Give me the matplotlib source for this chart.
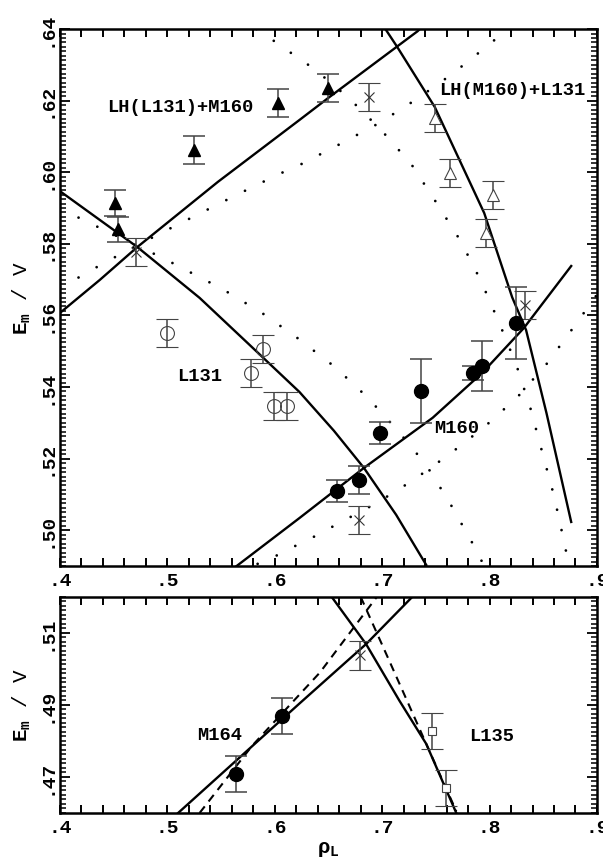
import matplotlib
matplotlib.use("Agg")
import matplotlib.pyplot as plt
from matplotlib import ticker

plt.rcParams['font.family'] = ['Liberation Mono', 'DejaVu Sans']
plt.rcParams['font.weight'] = 'bold'
plt.rcParams['mathtext.fontset'] = 'custom'
plt.rcParams['mathtext.rm'] = 'Liberation Mono:bold'
plt.rcParams['mathtext.it'] = 'Liberation Mono:bold'
plt.rcParams['mathtext.bf'] = 'Liberation Mono:bold'
plt.rcParams['mathtext.fallback'] = 'stixsans'

# ---- upper panel: measured points ----
tri_f_x = [0.451, 0.454, 0.525, 0.603, 0.650]
tri_f_y = [0.5914, 0.5841, 0.6062, 0.6193, 0.6235]
tri_f_err = [0.0035, 0.0035, 0.004, 0.004, 0.004]

cross_x = [0.471, 0.688, 0.833, 0.678]
cross_y = [0.5777, 0.621, 0.5629, 0.5028]
cross_err = [0.004, 0.004, 0.004, 0.004]

tri_o_x = [0.749, 0.763, 0.803, 0.797]
tri_o_y = [0.6151, 0.5998, 0.5936, 0.583]
tri_o_err = [0.004, 0.004, 0.004, 0.004]

circ_o_x = [0.500, 0.589, 0.578, 0.599, 0.611]
circ_o_y = [0.5551, 0.5506, 0.5439, 0.5347, 0.5347]
circ_o_err = [0.004, 0.004, 0.004, 0.004, 0.004]

circ_f_x = [0.658, 0.678, 0.698, 0.736, 0.785, 0.793, 0.825]
circ_f_y = [0.511, 0.514, 0.5272, 0.5389, 0.5439, 0.5459, 0.5579]
circ_f_err = [0.003, 0.004, 0.003, 0.009, 0.002, 0.007, 0.010]

# ---- upper panel: fitted curves ----
lh_l131_x = [0.400, 0.437, 0.472, 0.547, 0.623, 0.650, 0.733, 0.735]
lh_l131_y = [0.5607, 0.5699, 0.5791, 0.5973, 0.6146, 0.6208, 0.6394, 0.640]

l131_x = [0.400, 0.472, 0.530, 0.575, 0.623, 0.655, 0.683, 0.713, 0.741]
l131_y = [0.5947, 0.5791, 0.5649, 0.5522, 0.5386, 0.5278, 0.5174, 0.5043, 0.4903]

m160_x = [0.5645, 0.623, 0.683, 0.747, 0.793, 0.832, 0.876]
m160_y = [0.490, 0.5034, 0.5174, 0.5314, 0.5439, 0.5565, 0.5738]

lh_m160_x = [0.703, 0.714, 0.749, 0.772, 0.795, 0.821, 0.834, 0.853, 0.876]
lh_m160_y = [0.640, 0.635, 0.6182, 0.6034, 0.5886, 0.5651, 0.5559, 0.5327, 0.5023]

# dotted curves
dot_e_x = [0.400, 0.420, 0.459, 0.496, 0.551, 0.588, 0.621, 0.656, 0.686,
           0.714, 0.741, 0.763, 0.784, 0.795]
dot_e_y = [0.590, 0.5869, 0.5813, 0.576, 0.5674, 0.5607, 0.5537, 0.5456,
           0.5372, 0.528, 0.5182, 0.5076, 0.4964, 0.490]

dot_f_x = [0.400, 0.418, 0.436, 0.455, 0.492, 0.529, 0.566, 0.604, 0.623,
           0.659, 0.697, 0.732, 0.765, 0.798, 0.817]
dot_f_y = [0.5679, 0.5707, 0.5738, 0.5769, 0.5827, 0.5883, 0.5939, 0.5995,
           0.602, 0.6076, 0.6137, 0.6204, 0.6274, 0.6353, 0.640]

dot_g_x = [0.583, 0.602, 0.619, 0.637, 0.669, 0.699, 0.727, 0.750, 0.773,
           0.792, 0.809, 0.825, 0.838, 0.849, 0.860, 0.869, 0.874]
dot_g_y = [0.640, 0.6361, 0.6325, 0.6288, 0.6207, 0.6118, 0.6023, 0.5917,
           0.5808, 0.5696, 0.5579, 0.5461, 0.5341, 0.5218, 0.5096, 0.4973, 0.490]

dot_h_x = [0.584, 0.603, 0.621, 0.640, 0.658, 0.695, 0.729, 0.763, 0.795,
           0.826, 0.853, 0.877, 0.889, 0.899]
dot_h_y = [0.4906, 0.4931, 0.4959, 0.4987, 0.5017, 0.5076, 0.514, 0.5213,
           0.5288, 0.5372, 0.5464, 0.5562, 0.5612, 0.5654]

# ---- lower panel ----
b_circ_x = [0.564, 0.607]
b_circ_y = [0.4708, 0.4868]
b_circ_err = [0.005, 0.005]

b_cross_x = [0.679]
b_cross_y = [0.5038]
b_cross_err = [0.004]

b_sq_x = [0.746, 0.759]
b_sq_y = [0.4828, 0.4669]
b_sq_err = [0.005, 0.005]

m164_x = [0.510, 0.623, 0.685, 0.728]
m164_y = [0.460, 0.4904, 0.5069, 0.520]
m164_dash_x = [0.530, 0.579, 0.642, 0.695]
m164_dash_y = [0.460, 0.4787, 0.499, 0.520]

l135_x = [0.653, 0.685, 0.716, 0.741, 0.769]
l135_y = [0.520, 0.5069, 0.4912, 0.4792, 0.460]
l135_dash_x = [0.680, 0.707, 0.741, 0.769]
l135_dash_y = [0.520, 0.502, 0.4792, 0.4605]

x_ticks = [0.4, 0.5, 0.6, 0.7, 0.8, 0.9]

fig = plt.figure(figsize=(6.03, 8.59), dpi=100)
ax1 = fig.add_axes([0.0995, 0.3411, 0.8905, 0.6251])
ax2 = fig.add_axes([0.0995, 0.0536, 0.8905, 0.2515])

ebar = dict(ecolor='#444444', elinewidth=1.1, capsize=8, capthick=1.1,
            linestyle='none')
dotted = dict(color='black', lw=2.0, linestyle=(0, (0.01, 7.5)),
              dash_capstyle='round')

# curves
for xs, ys in [(lh_l131_x, lh_l131_y), (l131_x, l131_y),
               (m160_x, m160_y), (lh_m160_x, lh_m160_y)]:
    ax1.plot(xs, ys, color='black', lw=1.7)
for xs, ys in [(dot_e_x, dot_e_y), (dot_f_x, dot_f_y),
               (dot_g_x, dot_g_y), (dot_h_x, dot_h_y)]:
    ax1.plot(xs, ys, **dotted)

ax1.errorbar(tri_f_x, tri_f_y, yerr=tri_f_err, marker='^', ms=8,
             mfc='black', mec='black', **ebar)
ax1.errorbar(cross_x, cross_y, yerr=cross_err, marker='x', ms=7, mew=0.8,
             mec='#333333', **ebar)
ax1.errorbar(tri_o_x, tri_o_y, yerr=tri_o_err, marker='^', ms=8, mew=0.8,
             mfc='white', mec='#444444', **ebar)
ax1.errorbar(circ_o_x, circ_o_y, yerr=circ_o_err, marker='o', ms=10, mew=0.8,
             mfc='none', mec='#444444', **ebar)
ax1.errorbar(circ_f_x, circ_f_y, yerr=circ_f_err, marker='o', ms=10,
             mfc='black', mec='black', zorder=4, **ebar)

ax1.text(0.444, 0.618, 'LH(L131)+M160', fontsize=13.5, va='center')
ax1.text(0.753, 0.6227, 'LH(M160)+L131', fontsize=13.5, va='center')
ax1.text(0.509, 0.5428, 'L131', fontsize=13.5, va='center')
ax1.text(0.7485, 0.5285, 'M160', fontsize=13.5, va='center')

ax1.set_xlim(0.4, 0.9)
ax1.set_ylim(0.49, 0.64)
ax1.yaxis.set_major_locator(ticker.MultipleLocator(0.02))
ax1.yaxis.set_minor_locator(ticker.MultipleLocator(0.00125))

# lower panel
ax2.plot(m164_x, m164_y, color='black', lw=1.7)
ax2.plot(l135_x, l135_y, color='black', lw=1.7)
ax2.plot(m164_dash_x, m164_dash_y, color='black', lw=1.5, linestyle=(0, (4, 3)))
ax2.plot(l135_dash_x, l135_dash_y, color='black', lw=1.5, linestyle=(0, (4, 3)))
ax2.errorbar(b_circ_x, b_circ_y, yerr=b_circ_err, marker='o', ms=10,
             mfc='black', mec='black', zorder=4, **ebar)
ax2.errorbar(b_cross_x, b_cross_y, yerr=b_cross_err, marker='x', ms=7,
             mew=0.8, mec='#333333', **ebar)
ax2.errorbar(b_sq_x, b_sq_y, yerr=b_sq_err, marker='s', ms=6, mew=0.8,
             mfc='white', mec='#444444', **ebar)
ax2.text(0.528, 0.4815, 'M164', fontsize=13.5, va='center')
ax2.text(0.781, 0.4812, 'L135', fontsize=13.5, va='center')

ax2.set_xlim(0.4, 0.9)
ax2.set_ylim(0.46, 0.52)
ax2.yaxis.set_major_locator(ticker.FixedLocator([0.47, 0.49, 0.51]))
ax2.yaxis.set_minor_locator(ticker.MultipleLocator(0.00125))

for ax in (ax1, ax2):
    ax.xaxis.set_major_locator(ticker.FixedLocator(x_ticks))
    ax.xaxis.set_minor_locator(ticker.MultipleLocator(0.02))
    ax.xaxis.set_major_formatter(ticker.FuncFormatter(
        lambda v, p: f'{v:.1f}'.replace('0.', '.', 1)))
    ax.yaxis.set_major_formatter(ticker.FuncFormatter(
        lambda v, p: f'{v:.2f}'.replace('0.', '.', 1)))
    ax.tick_params(which='both', direction='in', top=True, right=True)
    ax.tick_params(axis='x', which='both', length=6, width=1.4,
                   labelsize=14, pad=5)
    ax.tick_params(axis='y', which='major', length=7, width=1.3,
                   labelsize=14, pad=3, labelrotation=90)
    ax.tick_params(axis='y', which='minor', length=4, width=1.1)
    for tl in ax.get_yticklabels():
        tl.set_va('center')
    for sp in ax.spines.values():
        sp.set_linewidth(1.8)
    ax.set_ylabel(r'$\mathrm{E_m}$ / V', fontsize=15, labelpad=4)

ax2.set_xlabel(r'$\rho_\mathrm{L}$', fontsize=15, labelpad=2)

fig.savefig('out.png', dpi=100)
